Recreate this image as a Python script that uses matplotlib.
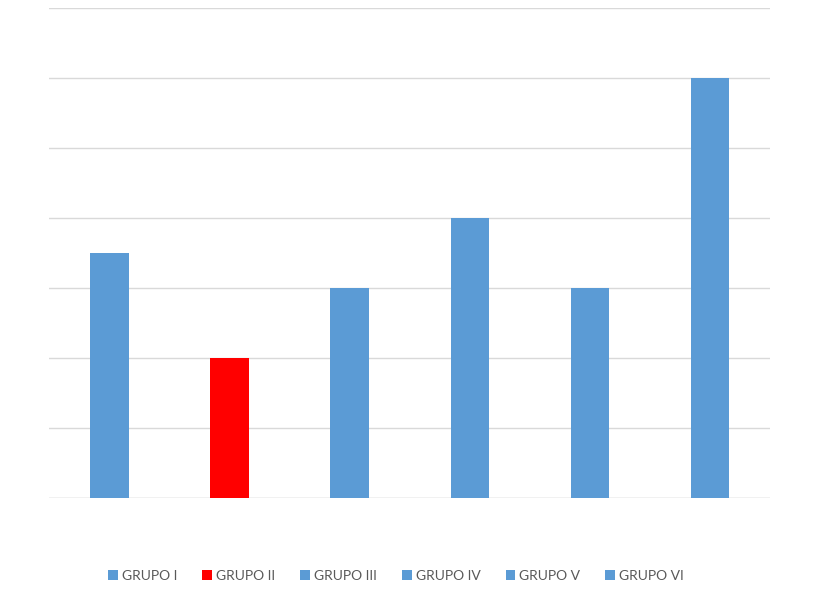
import matplotlib.pyplot as plt
import numpy as np

groups = ["GRUPO I", "GRUPO II", "GRUPO III", "GRUPO IV", "GRUPO V", "GRUPO VI"]
values = [3.5, 2, 3, 4, 3, 6]
colors = ["#5b9bd5", "#ff0000", "#5b9bd5", "#5b9bd5", "#5b9bd5", "#5b9bd5"]

plt.rcParams['font.family'] = ['Lato', 'DejaVu Sans']

fig = plt.figure(figsize=(8.37, 5.91), dpi=100)
ax = fig.add_axes([0.059, 0.157, 0.861, 0.829])

x = np.arange(len(groups))
for i in range(len(groups)):
    ax.bar(x[i], values[i], width=0.32, color=colors[i], label=groups[i], zorder=3)

ax.set_xlim(-0.5, len(groups) - 0.5)
ax.set_ylim(0, 7)
ax.set_yticks(np.arange(0, 8, 1))
ax.yaxis.grid(True, color="#d9d9d9", linewidth=1, zorder=0)
ax.tick_params(left=False, bottom=False, labelleft=False, labelbottom=False)
for s in ax.spines.values():
    s.set_visible(False)
ax.axhline(0, color="#d9d9d9", linewidth=1, zorder=2)

leg = ax.legend(loc="upper center", bbox_to_anchor=(0.481, -0.12), ncol=6, frameon=False,
                handlelength=0.7, handleheight=0.7, handletextpad=0.3, columnspacing=1.8,
                fontsize=10)
for t in leg.get_texts():
    t.set_color("#595959")

fig.savefig("out.png", dpi=100)
